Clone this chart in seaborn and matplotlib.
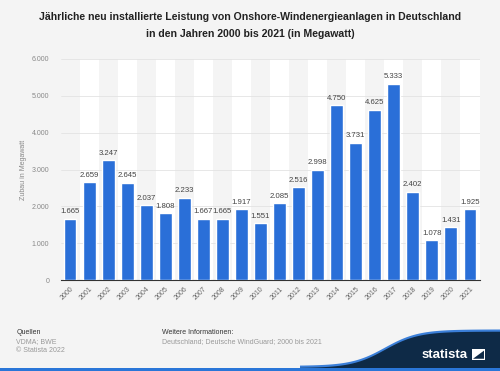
import matplotlib.pyplot as plt
import matplotlib.patches as mpatches
import numpy as np
import pandas as pd
import seaborn as sns

years = [str(y) for y in range(2000, 2022)]
values = [1665, 2659, 3247, 2645, 2037, 1808, 2233, 1667, 1665, 1917, 1551,
          2085, 2516, 2998, 4750, 3731, 4625, 5333, 2402, 1078, 1431, 1925]
yticks = [0, 1000, 2000, 3000, 4000, 5000, 6000]

title = ("Jährliche neu installierte Leistung von Onshore-Windenergieanlagen in Deutschland\n"
         "in den Jahren 2000 bis 2021 (in Megawatt)")

def de_fmt(v):
    return f"{v:,}".replace(",", ".")

df = pd.DataFrame({"Jahr": years, "Zubau": values})

sns.set_theme(style="white")
plt.rcParams['font.family'] = ['Liberation Sans', 'DejaVu Sans']

bg = "#f4f4f4"
fig = plt.figure(figsize=(5, 3.71), dpi=100, facecolor=bg)
ax = fig.add_axes([0.121, 0.245, 0.838, 0.596])
ax.set_facecolor(bg)

# alternating column bands
for i in range(len(years)):
    if i % 2 == 1:
        ax.axvspan(i - 0.5, i + 0.5, color="white", zorder=0, lw=0)

sns.barplot(data=df, x="Jahr", y="Zubau", color="#2a6fd8", saturation=1,
            width=0.68, ax=ax, zorder=3)

for i, v in enumerate(values):
    ax.text(i, v + 90, de_fmt(v), ha="center", va="bottom", fontsize=5.6,
            color="#444444", zorder=4)

ax.set_ylim(0, 6000)
ax.set_xlim(-0.5, len(years) - 0.5)
ax.set_yticks(yticks)
ax.set_yticklabels([de_fmt(t) for t in yticks], fontsize=5, color="#888888")
ax.set_xticks(range(len(years)))
ax.set_xticklabels(years, rotation=45, ha="right", rotation_mode="anchor",
                   fontsize=5, color="#666666")
ax.tick_params(axis="y", length=0, pad=8)
ax.tick_params(axis="x", length=0, pad=4)
ax.yaxis.grid(True, color="#e3e3e3", lw=0.6, zorder=1)
ax.set_axisbelow(True)
ax.set_xlabel("")
ax.set_ylabel("Zubau in Megawatt", fontsize=5, color="#888888")
ax.yaxis.set_label_coords(-0.08, 0.5)
for s in ["top", "right", "left"]:
    ax.spines[s].set_visible(False)
ax.spines["bottom"].set_color("#333333")
ax.spines["bottom"].set_linewidth(0.8)

fig.text(0.5, 0.932, title, ha="center", va="center", fontsize=7.6,
         fontweight="bold", color="#222222", linespacing=1.85)

# footer
fig.text(0.033, 0.105, "Quellen", fontsize=5, color="#333333", va="center")
fig.text(0.033, 0.08, "VDMA; BWE", fontsize=5, color="#999999", va="center")
fig.text(0.033, 0.056, "© Statista 2022", fontsize=5, color="#999999", va="center")
fig.text(0.323, 0.105, "Weitere Informationen:", fontsize=5, color="#333333", va="center")
fig.text(0.323, 0.08, "Deutschland; Deutsche WindGuard; 2000 bis 2021", fontsize=5,
         color="#999999", va="center")

# statista logo swoosh
xs = np.linspace(0.6, 1.0, 80)
top = 0.008 + 0.098 / (1 + np.exp(-(xs - 0.77) * 30))
edge = mpatches.Polygon(np.column_stack([np.concatenate([xs, [1.0, 0.6]]),
                                         np.concatenate([top + 0.006, [0.0, 0.0]])]),
                        closed=True, transform=fig.transFigure,
                        facecolor="#3b7fd9", edgecolor="none", zorder=1)
navy = mpatches.Polygon(np.column_stack([np.concatenate([xs, [1.0, 0.6]]),
                                         np.concatenate([top, [0.0, 0.0]])]),
                        closed=True, transform=fig.transFigure,
                        facecolor="#0e2a47", edgecolor="none", zorder=2)
fig.patches.extend([edge, navy])
fig.patches.append(mpatches.Rectangle((0, 0), 1, 0.008, transform=fig.transFigure,
                                      facecolor="#2a76d8", edgecolor="none", zorder=3))
fig.text(0.889, 0.044, "statista", fontsize=9.5, fontweight="bold", color="white",
         va="center", ha="center", zorder=4)
fig.patches.append(mpatches.Rectangle((0.944, 0.030), 0.026, 0.028, transform=fig.transFigure,
                                      facecolor="white", edgecolor="none", zorder=4))
fig.patches.append(mpatches.Polygon([[0.946, 0.033], [0.968, 0.055], [0.968, 0.033]],
                                    closed=True, transform=fig.transFigure,
                                    facecolor="#0e2a47", edgecolor="none", zorder=5))

fig.savefig("out.png", dpi=100, facecolor=bg)
